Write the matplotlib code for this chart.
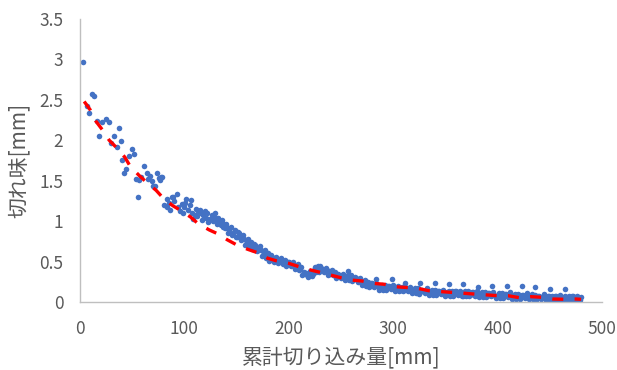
import matplotlib
matplotlib.use('Agg')
import matplotlib.pyplot as plt

plt.rcParams['font.family'] = ['Noto Sans CJK JP', 'DejaVu Sans']

# 測定点 (累計切り込み量, 切れ味)
early_x = [3, 7, 8.6, 11.8, 13.4, 16.6, 18.2, 21.4, 24.6, 27.8, 29.4, 32.6, 35.7, 37.4, 39,
           40.5, 42.1, 43.8, 46.9, 50.1, 51.7, 53.4, 55.9, 56.5, 58, 61.3, 63.9, 65.5, 67,
           68.7, 70.2, 71.8, 74, 75.7, 76.6, 78, 78.2, 80, 83, 83, 85, 86.2, 87.8, 89.4, 90,
           92.6, 94.2, 95.8, 97.4, 99]
early_y = [2.97, 2.43, 2.34, 2.57, 2.55, 2.24, 2.05, 2.22, 2.26, 2.22, 1.97, 2.05, 1.92, 2.15, 1.99,
           1.76, 1.60, 1.65, 1.81, 1.89, 1.83, 1.52, 1.30, 1.51, 1.55, 1.68, 1.59, 1.52, 1.56,
           1.50, 1.43, 1.44, 1.60, 1.53, 1.51, 1.55, 1.54, 1.20, 1.28, 1.18, 1.22, 1.14, 1.30, 1.30, 1.25,
           1.33, 1.18, 1.12, 1.21, 1.10]

mid_x = [100, 101, 102, 103, 105, 106, 107, 108.5, 110, 111, 112, 113, 115, 116, 117, 118,
         119.8, 121, 122, 123, 124.5, 126, 127, 128, 129, 130, 131, 132, 133, 134, 135, 136,
         137, 138, 139]
mid_y = [1.17, 1.22, 1.27, 1.14, 1.20, 1.26, 1.10, 1.03, 1.08, 1.15, 1.06, 1.12, 1.14, 1.10, 1.02, 1.07,
         1.12, 1.04, 1.10, 0.99, 1.03, 1.08, 1.00, 1.05, 1.10, 1.02, 0.97, 1.04, 0.99, 0.99, 0.95, 1.01,
         0.93, 0.97, 0.92]

dense_x = [140, 142, 144, 146, 148, 150, 152, 154, 156, 158, 160, 162, 164, 166, 168, 170,
           172, 174, 176, 178, 180, 182, 184, 186, 188, 190, 192, 194, 196, 198, 200, 202,
           204, 206, 208, 210, 212, 214, 216, 218, 220, 222, 224, 226, 228, 230, 232, 234,
           236, 238, 240, 242, 244, 246, 248, 250, 252, 254, 256, 258, 260, 262, 264, 266,
           268, 270, 272, 274, 276, 278, 280, 282, 284, 286, 288, 290, 292, 294, 296, 298,
           300, 302, 304, 306, 308, 310, 312, 314, 316, 318, 320, 322, 324, 326, 328, 330,
           332, 334, 336, 338, 340, 342, 344, 346, 348, 350, 352, 354, 356, 358, 360, 362,
           364, 366, 368, 370, 372, 374, 376, 378, 380, 382, 384, 386, 388, 390, 392, 394,
           396, 398, 400, 402, 404, 406, 408, 410, 412, 414, 416, 418, 420, 422, 424, 426,
           428, 430, 432, 434, 436, 438, 440, 442, 444, 446, 448, 450, 452, 454, 456, 458,
           460, 462, 464, 466, 468, 470, 472, 474, 476, 478, 480]
dense_y = [0.97, 0.85, 0.91, 0.83, 0.89, 0.81, 0.85, 0.77, 0.83, 0.71, 0.75, 0.68, 0.74, 0.67, 0.70, 0.63,
           0.69, 0.57, 0.61, 0.54, 0.60, 0.53, 0.56, 0.50, 0.56, 0.48, 0.52, 0.47, 0.52, 0.47, 0.50, 0.45,
           0.50, 0.41, 0.45, 0.40, 0.43, 0.35, 0.36, 0.31, 0.38, 0.32, 0.39, 0.37, 0.44, 0.39, 0.41, 0.37,
           0.42, 0.34, 0.38, 0.33, 0.37, 0.32, 0.34, 0.30, 0.35, 0.27, 0.32, 0.27, 0.33, 0.28, 0.30, 0.25,
           0.30, 0.21, 0.25, 0.20, 0.25, 0.20, 0.23, 0.18, 0.24, 0.15, 0.19, 0.15, 0.21, 0.17, 0.20, 0.16,
           0.21, 0.13, 0.18, 0.13, 0.19, 0.15, 0.17, 0.13, 0.19, 0.11, 0.15, 0.11, 0.17, 0.12, 0.15, 0.11,
           0.17, 0.09, 0.13, 0.09, 0.15, 0.11, 0.14, 0.10, 0.15, 0.08, 0.12, 0.08, 0.14, 0.10, 0.13, 0.09,
           0.14, 0.07, 0.11, 0.07, 0.13, 0.09, 0.12, 0.07, 0.13, 0.06, 0.10, 0.06, 0.12, 0.08, 0.11, 0.07,
           0.12, 0.05, 0.09, 0.05, 0.11, 0.07, 0.10, 0.06, 0.12, 0.04, 0.08, 0.04, 0.10, 0.06, 0.09, 0.05,
           0.11, 0.04, 0.08, 0.04, 0.09, 0.05, 0.08, 0.04, 0.10, 0.03, 0.07, 0.03, 0.08, 0.04, 0.07, 0.03,
           0.09, 0.02, 0.06, 0.03, 0.08, 0.04, 0.07, 0.03, 0.08, 0.03, 0.06]

dense2_x = [141, 143, 145, 147, 149, 151, 153, 155, 157, 159, 161, 163, 165, 167, 169, 171,
            173, 175, 177, 179, 181, 183, 185, 187, 189, 191, 193, 195, 197, 199, 201, 203,
            205, 207, 209, 211, 213, 215, 217, 219, 221, 223, 225, 227, 229, 231, 233, 235,
            237, 239, 241, 243, 245, 247, 249, 251, 253, 255, 257, 259, 261, 263, 265, 267,
            269, 271, 273, 275, 277, 279, 281, 283, 285, 287, 289, 291, 293, 295, 297, 299,
            301, 303, 305, 307, 309, 311, 313, 315, 317, 319, 321, 323, 325, 327, 329, 331,
            333, 335, 337, 339, 341, 343, 345, 347, 349, 351, 353, 355, 357, 359, 361, 363,
            365, 367, 369, 371, 373, 375, 377, 379, 381, 383, 385, 387, 389, 391, 393, 395,
            397, 399, 401, 403, 405, 407, 409, 411, 413, 415, 417, 419, 421, 423, 425, 427,
            429, 431, 433, 435, 437, 439, 441, 443, 445, 447, 449, 451, 453, 455, 457, 459,
            461, 463, 465, 467, 469, 471, 473, 475, 477, 479]
dense2_y = [0.92, 0.87, 0.93, 0.85, 0.80, 0.86, 0.80, 0.80, 0.78, 0.72, 0.78, 0.70, 0.65, 0.72, 0.67, 0.66,
            0.64, 0.58, 0.64, 0.56, 0.51, 0.58, 0.53, 0.53, 0.53, 0.49, 0.54, 0.49, 0.45, 0.50, 0.47, 0.47,
            0.46, 0.42, 0.47, 0.41, 0.34, 0.37, 0.33, 0.34, 0.36, 0.35, 0.43, 0.40, 0.37, 0.42, 0.39, 0.39,
            0.39, 0.35, 0.40, 0.34, 0.30, 0.35, 0.32, 0.32, 0.32, 0.29, 0.34, 0.29, 0.26, 0.31, 0.27, 0.27,
            0.26, 0.22, 0.27, 0.22, 0.18, 0.23, 0.20, 0.20, 0.20, 0.16, 0.21, 0.17, 0.15, 0.20, 0.18, 0.18,
            0.18, 0.15, 0.20, 0.15, 0.13, 0.18, 0.15, 0.15, 0.16, 0.12, 0.17, 0.13, 0.10, 0.15, 0.13, 0.13,
            0.13, 0.10, 0.15, 0.11, 0.09, 0.14, 0.12, 0.12, 0.12, 0.09, 0.14, 0.10, 0.08, 0.13, 0.11, 0.11,
            0.11, 0.08, 0.13, 0.09, 0.07, 0.12, 0.09, 0.09, 0.10, 0.07, 0.12, 0.08, 0.06, 0.11, 0.09, 0.09,
            0.09, 0.06, 0.11, 0.07, 0.05, 0.10, 0.08, 0.08, 0.08, 0.05, 0.10, 0.06, 0.04, 0.09, 0.07, 0.07,
            0.08, 0.05, 0.10, 0.06, 0.03, 0.08, 0.06, 0.06, 0.07, 0.04, 0.08, 0.04, 0.02, 0.07, 0.05, 0.05,
            0.06, 0.03, 0.08, 0.04, 0.02, 0.07, 0.05, 0.05, 0.06, 0.03]

outlier_x = [230, 257, 284, 298.5, 311, 325.5, 340, 353, 367, 381.5, 394.5, 408.6, 423, 436, 450, 465]
outlier_y = [0.445, 0.38, 0.28, 0.28, 0.24, 0.24, 0.24, 0.22, 0.22, 0.19, 0.20, 0.20, 0.20, 0.18, 0.16, 0.16]

# 近似線 (赤破線)
trend_x = [4, 9.6, 15, 21.4, 28, 35.7, 43, 48, 57, 63, 73, 80, 89, 98, 106, 113, 124, 132.5,
           141, 151, 161, 170, 180, 188, 199.5, 209, 219.6, 229, 241, 250, 261, 270, 281.6,
           291, 301, 312, 323, 334, 344, 355, 366, 376, 387, 398, 410, 421, 432, 443, 453,
           465, 475, 480]
trend_y = [2.48, 2.38, 2.24, 2.13, 2.0, 1.90, 1.79, 1.68, 1.56, 1.49, 1.38, 1.28, 1.19, 1.12, 1.05,
           0.97, 0.89, 0.84, 0.77, 0.70, 0.65, 0.61, 0.54, 0.51, 0.48, 0.44, 0.40, 0.37, 0.33,
           0.30, 0.27, 0.26, 0.23, 0.22, 0.19, 0.18, 0.17, 0.14, 0.13, 0.12, 0.11, 0.10, 0.09,
           0.08, 0.078, 0.053, 0.066, 0.058, 0.037, 0.033, 0.037, 0.033]

x_ticks = [0, 100, 200, 300, 400, 500]
y_ticks = [0, 0.5, 1, 1.5, 2, 2.5, 3, 3.5]
y_tick_labels = ['0', '0.5', '1', '1.5', '2', '2.5', '3', '3.5']

fig = plt.figure(figsize=(6.17, 3.70), dpi=100)
ax = fig.add_axes([80 / 617, 68 / 370, 522 / 617, 283 / 370])

blue = '#4472C4'
for xs, ys in [(early_x, early_y), (mid_x, mid_y), (dense_x, dense_y),
               (dense2_x, dense2_y), (outlier_x, outlier_y)]:
    ax.scatter(xs, ys, s=16, color=blue, linewidths=0, zorder=2)
ax.plot(trend_x, trend_y, color='#FF0000', lw=2.4, dashes=(3.3, 3.4),
        solid_capstyle='butt', dash_capstyle='butt', zorder=3)

ax.set_xlim(0, 500)
ax.set_ylim(0, 3.5)
ax.set_xticks(x_ticks)
ax.set_yticks(y_ticks)
ax.set_yticklabels(y_tick_labels)
ax.tick_params(length=0, labelsize=12.5, labelcolor='#595959')
ax.tick_params(axis='y', pad=12)
ax.tick_params(axis='x', pad=13)

for s in ['top', 'right']:
    ax.spines[s].set_visible(False)
for s in ['left', 'bottom']:
    ax.spines[s].set_color('#BFBFBF')
    ax.spines[s].set_linewidth(1.0)

ax.set_xlabel('累計切り込み量[mm]', fontsize=15, color='#595959', va='center')
ax.set_ylabel('切れ味[mm]', fontsize=15, color='#595959', va='center')
ax.xaxis.set_label_coords(0.5, -0.194)
ax.yaxis.set_label_coords(-0.117, 0.5)

fig.savefig('out.png', dpi=100)
